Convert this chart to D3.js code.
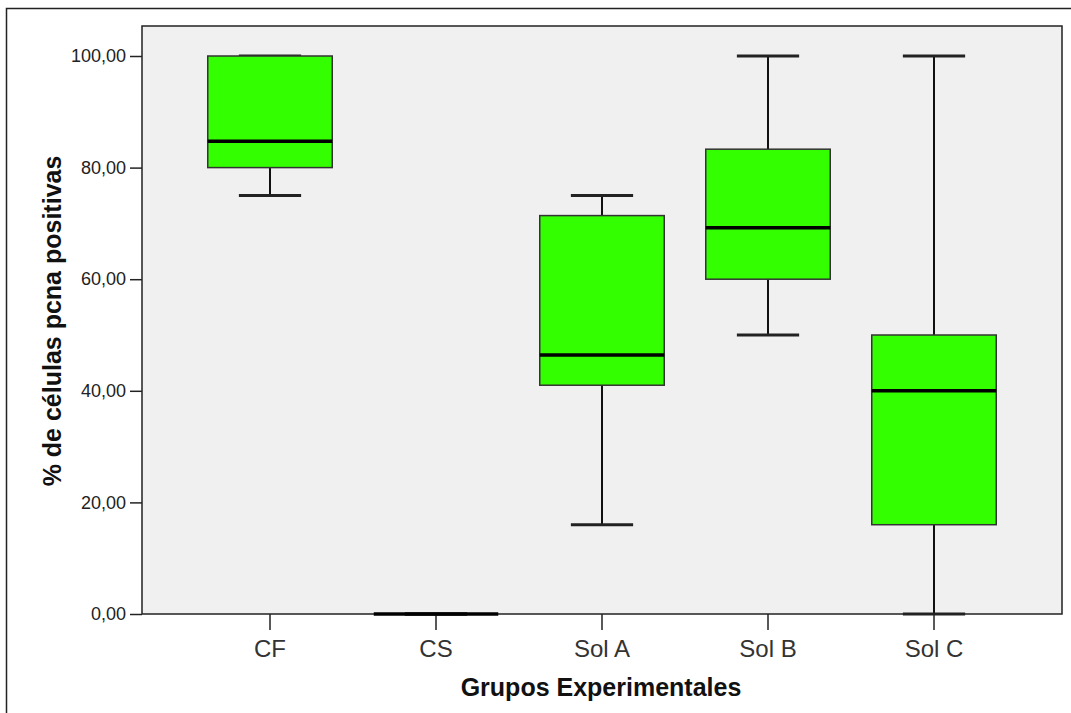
<!DOCTYPE html>
<html><head><meta charset="utf-8">
<script src="https://cdn.jsdelivr.net/npm/d3@7"></script>
<style>body{margin:0;background:#fff}svg{display:block}</style>
</head><body>
<svg id="c" width="1071" height="713"></svg>
<script>
const categories = ["CF", "CS", "Sol A", "Sol B", "Sol C"];
const whiskerLow  = [75, 0, 16, 50, 0];
const q1          = [80, 0, 41, 60, 16];
const median      = [84.7, 0, 46.4, 69.2, 40];
const q3          = [100, 0, 71.4, 83.3, 50];
const whiskerHigh = [100, 0, 75, 100, 100];
const yTicks = [0, 20, 40, 60, 80, 100];

const FONT = "Liberation Sans, Arial, sans-serif";
const svg = d3.select("#c");
svg.append("rect").attr("x",6.5).attr("y",8.5).attr("width",1080).attr("height",720)
  .attr("fill","#fff").attr("stroke","#222").attr("stroke-width",1.5);

const L=142, R=1062, T=26, B=614;
svg.append("rect").attr("x",L).attr("y",T).attr("width",R-L).attr("height",B-T)
  .attr("fill","#f0f0f0").attr("stroke","#222").attr("stroke-width",1.5);

const y = d3.scaleLinear().domain([0,100]).range([B,56]);
const x = d3.scaleBand().domain(categories).range([187,1017]).padding(0);
const bw = x.bandwidth()*0.75;

const fmt = d => d3.format(".2f")(d).replace(".", ",");
const yAxis = svg.append("g").attr("transform",`translate(${L},0)`)
  .call(d3.axisLeft(y).tickValues(yTicks).tickFormat(fmt).tickSize(12).tickPadding(4));
yAxis.select(".domain").remove();
yAxis.selectAll("line").attr("stroke","#222").attr("stroke-width",1.5);
yAxis.selectAll("text").attr("font-family",FONT).attr("font-size",18).attr("fill","#222");

const xAxis = svg.append("g").attr("transform",`translate(0,${B})`)
  .call(d3.axisBottom(x).tickSize(16).tickPadding(10));
xAxis.select(".domain").remove();
xAxis.selectAll("line").attr("stroke","#222").attr("stroke-width",1.5);
xAxis.selectAll("text").attr("font-family",FONT).attr("font-size",24).attr("fill","#333");

const g = svg.append("g");
categories.forEach((c,i)=>{
  const cx = x(c)+x.bandwidth()/2;
  g.append("line").attr("x1",cx).attr("x2",cx).attr("y1",y(whiskerHigh[i])).attr("y2",y(q3[i]))
    .attr("stroke","#111").attr("stroke-width",2);
  g.append("line").attr("x1",cx).attr("x2",cx).attr("y1",y(q1[i])).attr("y2",y(whiskerLow[i]))
    .attr("stroke","#111").attr("stroke-width",2);
  [whiskerHigh[i], whiskerLow[i]].forEach(v=>{
    g.append("line").attr("x1",cx-bw/4).attr("x2",cx+bw/4).attr("y1",y(v)).attr("y2",y(v))
      .attr("stroke","#222").attr("stroke-width",3);
  });
  g.append("rect").attr("x",cx-bw/2).attr("y",y(q3[i])).attr("width",bw)
    .attr("height",y(q1[i])-y(q3[i])).attr("fill","#33ff00").attr("stroke","#333").attr("stroke-width",1.5);
  g.append("line").attr("x1",cx-bw/2).attr("x2",cx+bw/2).attr("y1",y(median[i])).attr("y2",y(median[i]))
    .attr("stroke","#000").attr("stroke-width",3.5);
});

svg.append("text").attr("x",601).attr("y",696).attr("text-anchor","middle")
  .attr("font-family",FONT).attr("font-weight","bold").attr("font-size",25)
  .attr("fill","#111").text("Grupos Experimentales");
svg.append("text").attr("transform","translate(61,321) rotate(-90)").attr("text-anchor","middle")
  .attr("font-family",FONT).attr("font-weight","bold").attr("font-size",25)
  .attr("fill","#111").text("% de células pcna positivas");
</script>
</body></html>
